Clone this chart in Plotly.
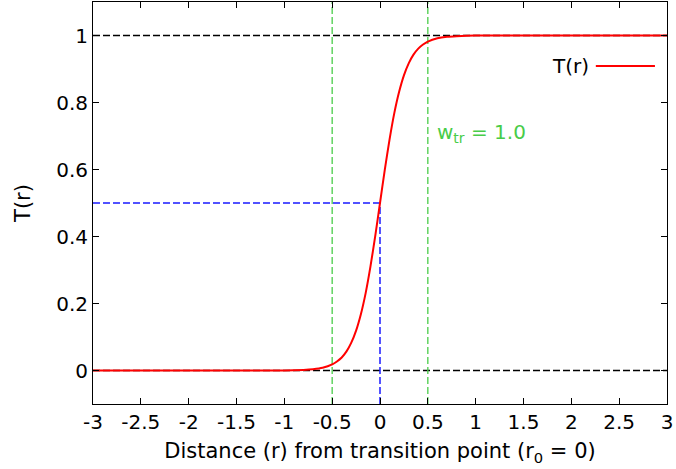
import plotly.graph_objects as go

# Curve T(r)
r_vals = [-3.0, -2.0, -1.5, -1.0, -0.8, -0.7, -0.6, -0.5, -0.45, -0.4, -0.35, -0.3, -0.25, -0.2, -0.15, -0.1, -0.05,
          0.0, 0.05, 0.1, 0.15, 0.2, 0.25, 0.3, 0.35, 0.4, 0.45, 0.5, 0.6, 0.7, 0.8, 1.0, 1.5, 2.0, 3.0]
t_vals = [0.0, 0.0, 0.0, 0.0003, 0.0017, 0.0037, 0.008, 0.018, 0.027, 0.039, 0.057, 0.083, 0.119, 0.168, 0.231, 0.310, 0.401,
          0.5, 0.599, 0.690, 0.769, 0.832, 0.881, 0.917, 0.943, 0.961, 0.973, 0.982, 0.992, 0.9963, 0.998, 0.9997, 1.0, 1.0, 1.0]

# Reference lines
x_range = [-3, 3]
y_range = [-0.1, 1.1]
h_levels = [0, 1]
w_edges = [-0.5, 0.5]
r0 = 0.0
t_half = 0.5

x_ticks = [-3, -2.5, -2, -1.5, -1, -0.5, 0, 0.5, 1, 1.5, 2, 2.5, 3]
x_tick_labels = ["-3", "-2.5", "-2", "-1.5", "-1", "-0.5", "0", "0.5", "1", "1.5", "2", "2.5", "3"]
y_ticks = [0, 0.2, 0.4, 0.6, 0.8, 1]
y_tick_labels = ["0", "0.2", "0.4", "0.6", "0.8", "1"]

FONT = "DejaVu Sans"
FS = 20
GREEN = "#48cc48"
BLUE = "#1a1aff"
RED = "#ff0000"
DASH = "7px,3px"

fig = go.Figure()

for lv in h_levels:
    fig.add_trace(go.Scatter(x=x_range, y=[lv, lv], mode="lines",
                             line=dict(color="black", width=1.3, dash=DASH),
                             showlegend=False, hoverinfo="skip"))
for we in w_edges:
    fig.add_trace(go.Scatter(x=[we, we], y=y_range, mode="lines",
                             line=dict(color=GREEN, width=1.3, dash=DASH),
                             showlegend=False, hoverinfo="skip"))
fig.add_trace(go.Scatter(x=[x_range[0], r0], y=[t_half, t_half], mode="lines",
                         line=dict(color=BLUE, width=1.5, dash=DASH),
                         showlegend=False, hoverinfo="skip"))
fig.add_trace(go.Scatter(x=[r0, r0], y=[y_range[0], t_half], mode="lines",
                         line=dict(color=BLUE, width=1.5, dash=DASH),
                         showlegend=False, hoverinfo="skip"))

fig.add_trace(go.Scatter(x=r_vals, y=t_vals, mode="lines", name="T(r)",
                         line=dict(color=RED, width=2, shape="spline", smoothing=0.5),
                         showlegend=False))

axis_common = dict(showgrid=False, zeroline=False, showline=True, linecolor="black", linewidth=1,
                   mirror="ticks", ticks="inside", ticklen=6, tickcolor="black",
                   tickfont=dict(family=FONT, size=FS, color="black"))

fig.update_xaxes(range=x_range, tickvals=x_ticks, ticktext=x_tick_labels,
                 title=dict(text="Distance (r) from transition point (r<sub>0</sub> = 0)",
                            font=dict(family=FONT, size=21, color="black"), standoff=10),
                 **axis_common)
fig.update_yaxes(range=y_range, tickvals=y_ticks, ticktext=y_tick_labels,
                 title=dict(text="T(r)", font=dict(family=FONT, size=21, color="black"), standoff=19),
                 **axis_common)

# w_tr label
fig.add_annotation(x=0.58, y=0.71, xref="x", yref="y", text="w<sub>tr</sub> = 1.0",
                   showarrow=False, xanchor="left", yanchor="middle",
                   font=dict(family=FONT, size=FS, color=GREEN))

# Legend (gnuplot style: text then line sample)
fig.add_annotation(x=0.867, y=0.841, xref="paper", yref="paper", text="T(r)",
                   showarrow=False, xanchor="right", yanchor="middle",
                   font=dict(family=FONT, size=FS, color="black"))
fig.add_shape(type="line", xref="paper", yref="paper", x0=0.876, x1=0.979, y0=0.841, y1=0.841,
              line=dict(color=RED, width=2))

fig.update_layout(width=676, height=469, margin=dict(l=93, r=9, t=2, b=65),
                  plot_bgcolor="white", paper_bgcolor="white",
                  font=dict(family=FONT, size=FS, color="black"))

fig.write_html("out.html")
